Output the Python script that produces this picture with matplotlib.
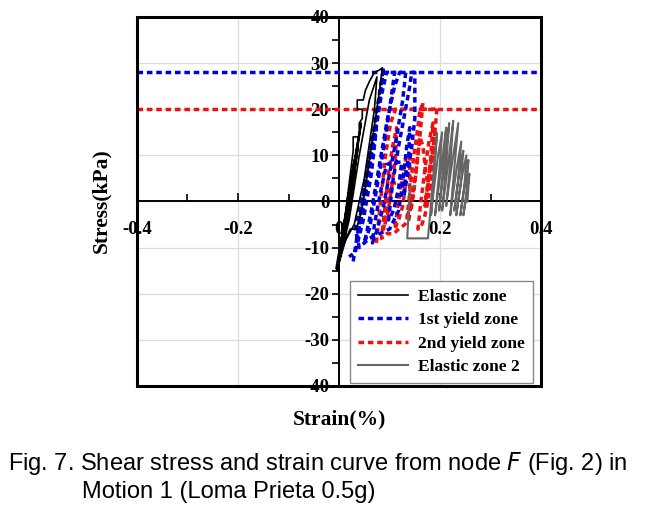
import matplotlib.pyplot as plt
from matplotlib.patches import Rectangle
from matplotlib.ticker import MultipleLocator

plt.rcParams['axes.unicode_minus'] = False

# yield stress levels (kPa)
first_yield = 28
second_yield = 20

# elastic zone
elastic_strain = [-0.006, 0.020, 0.006, 0.030, 0.014, 0.036, 0.010, 0.028, 0.000, 0.024,
                  0.004, 0.034, 0.016, 0.040, 0.022, 0.044, 0.020, 0.032, 0.012, 0.030,
                  0.002, 0.028, 0.028, 0.040, 0.040, 0.046, 0.046, 0.036, 0.036, 0.048,
                  0.052, 0.060, 0.070, 0.080, 0.086, 0.080, 0.072, 0.064, 0.056, 0.048,
                  0.040, 0.034, 0.022, 0.014, 0.006, -0.004, 0.020, 0.040, 0.060, 0.075,
                  0.070, 0.050, 0.030, 0.010, 0.026, 0.038, 0.024, -0.002]
elastic_stress = [-14.5, 2, -8, 8, -4, 12, -6, 6, -11, 4,
                  -10, 10, 0, 15, 2, 17, -1, 7, -6, 9,
                  -12, 11, 14, 14, 17, 18, 20, 20, 22, 22,
                  24, 26, 28, 28.5, 29, 24, 18, 12, 6, 0,
                  -4, -6, -6, -8, -11, -15, -4, 10, 22, 27,
                  20, 5, -5, -9, 3, 12, 1, -13]

# 1st yield zone
yield1_strain = [0.028, 0.088, 0.080, 0.060, 0.046, 0.036, 0.050, 0.068, 0.082, 0.094,
                 0.110, 0.100, 0.086, 0.070, 0.060, 0.050, 0.064, 0.080, 0.096, 0.110,
                 0.120, 0.132, 0.126, 0.114, 0.100, 0.088, 0.076, 0.066, 0.070, 0.082,
                 0.094, 0.108, 0.124, 0.118, 0.108, 0.098, 0.106, 0.118, 0.130, 0.140,
                 0.144, 0.150, 0.150, 0.144, 0.136, 0.128, 0.132, 0.138, 0.140, 0.134,
                 0.126, 0.118, 0.100, 0.080, 0.060, 0.040, 0.032, 0.048, 0.060, 0.074,
                 0.064, 0.048, 0.032, 0.020]
yield1_stress = [-13, 29, 22, 8, -2, -8, 0, 12, 22, 28,
                 28, 20, 10, 0, -6, -9, -2, 8, 18, 25,
                 28, 28, 22, 14, 6, -1, -6, -9, -5, 2,
                 8, 8.5, 8.5, 3, -2, -4, 4, 12, 19, 25,
                 28, 28, 18, 12, 6, 1, 6, 10, 16, 12,
                 4, -2, -6, -7, -8, -10, -6, 2, 10, 16,
                 6, -4, -11, -12]

# 2nd yield zone
yield2_strain = [0.074, 0.082, 0.092, 0.102, 0.112, 0.150, 0.162, 0.166, 0.160, 0.152,
                 0.144, 0.138, 0.130, 0.118, 0.108, 0.094, 0.084, 0.090, 0.098, 0.106,
                 0.114, 0.112, 0.104, 0.096, 0.088, 0.096, 0.104, 0.118, 0.132, 0.126,
                 0.118, 0.110, 0.118, 0.126, 0.134, 0.140, 0.140, 0.140, 0.134, 0.140,
                 0.148, 0.156, 0.160, 0.180, 0.190, 0.194, 0.188, 0.182, 0.176, 0.170,
                 0.164, 0.156, 0.162, 0.170, 0.178, 0.186, 0.182, 0.176, 0.170, 0.176,
                 0.184, 0.190, 0.186, 0.180, 0.172, 0.166, 0.160, 0.154, 0.148, 0.142]
yield2_stress = [-9, 0, 10, 17, 20, 20, 20, 21.5, 14, 6,
                 0, -4, -5, -6, -7, -7, -8, -2, 6, 12,
                 16, 10, 3, -3, -6, 0, 4, 4, 4, -1,
                 -4, -6, 0, 6, 10, 10, 4, -1, -4, 2,
                 10, 16, 20, 20, 20, 20.5, 13, 6, 0, -3,
                 -5, -6, 0, 7, 13, 17, 10, 4, -1, 4,
                 10, 15, 8, 2, 6, 12, 14, 8, 2, -2]

# elastic zone 2
elastic2_strain = [0.150, 0.140, 0.135, 0.176, 0.180, 0.186, 0.194, 0.188, 0.182, 0.188,
                   0.196, 0.204, 0.198, 0.190, 0.196, 0.204, 0.212, 0.206, 0.198, 0.204,
                   0.212, 0.218, 0.212, 0.204, 0.210, 0.218, 0.226, 0.220, 0.212, 0.218,
                   0.226, 0.236, 0.228, 0.220, 0.226, 0.234, 0.242, 0.236, 0.228, 0.234,
                   0.240, 0.246, 0.240, 0.232, 0.238, 0.246, 0.252, 0.248, 0.240, 0.246,
                   0.252, 0.256, 0.252, 0.246, 0.252, 0.258, 0.254]
elastic2_stress = [3.3, 3, -8, -8, -3, 5, 14.8, 6, -3, 3,
                   10, 15, 6, -3, 2, 9, 16, 7, -2, 4,
                   11, 17, 8, -2, 3, 10, 17.5, 8, -1, 4,
                   10, 17, 7, -3, 2, 8, 13, 5, -2, 3,
                   8, 11, 3, -3, 2, 7, 10, 3, -3, 2,
                   6, 9, 2, -3, 1, 6, 0]

serif = 'Liberation Serif'
dots = (0, (1.6, 1.1))

fig = plt.figure(figsize=(6.52, 5.09), dpi=100)
ax = fig.add_axes([0.210, 0.2417, 0.620, 0.725])

ax.axhline(first_yield, color='#0000dd', lw=2.5, linestyle=dots, zorder=3)
ax.axhline(second_yield, color='#ee1111', lw=2.5, linestyle=dots, zorder=3)

ax.plot(elastic_strain, elastic_stress, color='black', lw=1.2, label='Elastic zone', zorder=6)
ax.plot(yield1_strain, yield1_stress, color='#0000dd', lw=2.5, linestyle=dots,
        label='1st yield zone', zorder=5)
ax.plot(yield2_strain, yield2_stress, color='#ee1111', lw=2.5, linestyle=dots,
        label='2nd yield zone', zorder=4)
ax.plot(elastic2_strain, elastic2_stress, color='#666666', lw=1.5, label='Elastic zone 2', zorder=4)

ax.set_xlim(-0.4, 0.4)
ax.set_ylim(-40, 40)
ax.xaxis.set_major_locator(MultipleLocator(0.2))
ax.xaxis.set_minor_locator(MultipleLocator(0.1))
ax.yaxis.set_major_locator(MultipleLocator(10))
ax.yaxis.set_minor_locator(MultipleLocator(5))
ax.set_xticks([-0.4, -0.2, 0, 0.2, 0.4])
ax.set_xticklabels(['-0.4', '-0.2', '0', '0.2', '0.4'])
ax.grid(True, which='major', color='#dddddd', lw=0.9, zorder=0)
ax.set_axisbelow(True)

ax.spines['left'].set_position('zero')
ax.spines['bottom'].set_position('zero')
ax.spines['left'].set_linewidth(1.4)
ax.spines['bottom'].set_linewidth(1.4)
ax.spines['top'].set_visible(False)
ax.spines['right'].set_visible(False)
ax.add_patch(Rectangle((0, 0), 1, 1, transform=ax.transAxes, fill=False,
                       lw=2.2, ec='black', clip_on=False, zorder=7))

ax.tick_params(axis='x', which='both', direction='in', pad=14, labelsize=13.5)
ax.tick_params(axis='x', which='major', length=6, width=1.2)
ax.tick_params(axis='x', which='minor', length=5, width=1.2)
ax.tick_params(axis='y', which='both', direction='out', pad=2, labelsize=13.5)
ax.tick_params(axis='y', which='major', length=5, width=1.2)
ax.tick_params(axis='y', which='minor', length=5, width=1.2)
for lab in ax.get_xticklabels() + ax.get_yticklabels():
    lab.set_fontfamily(serif)
    lab.set_fontweight('bold')

leg = ax.legend(loc='lower right', bbox_to_anchor=(0.98, 0.008), borderaxespad=0,
                prop={'family': serif, 'weight': 'bold', 'size': 12.5},
                fancybox=False, edgecolor='#888888', framealpha=1, handlelength=2.9,
                handletextpad=0.6, borderpad=0.45, labelspacing=0.42)
leg.get_frame().set_linewidth(1.0)
leg.set_zorder(8)

fig.text(0.52, 0.175, 'Strain(%)', family=serif, weight='bold', size=15.5, ha='center', va='center')
fig.text(0.156, 0.605, 'Stress(kPa)', family=serif, weight='bold', size=15.5, ha='center',
         va='center', rotation=90)

cap = ['Liberation Sans', 'DejaVu Sans']
fig.text(0.012, 0.09, 'Fig. 7. Shear stress and strain curve from node $\\it{F}$ (Fig. 2) in',
         family=cap, size=17, ha='left', va='center')
fig.text(0.126, 0.033, 'Motion 1 (Loma Prieta 0.5g)', family=cap, size=17, ha='left', va='center')

fig.savefig('out.png', dpi=100)
